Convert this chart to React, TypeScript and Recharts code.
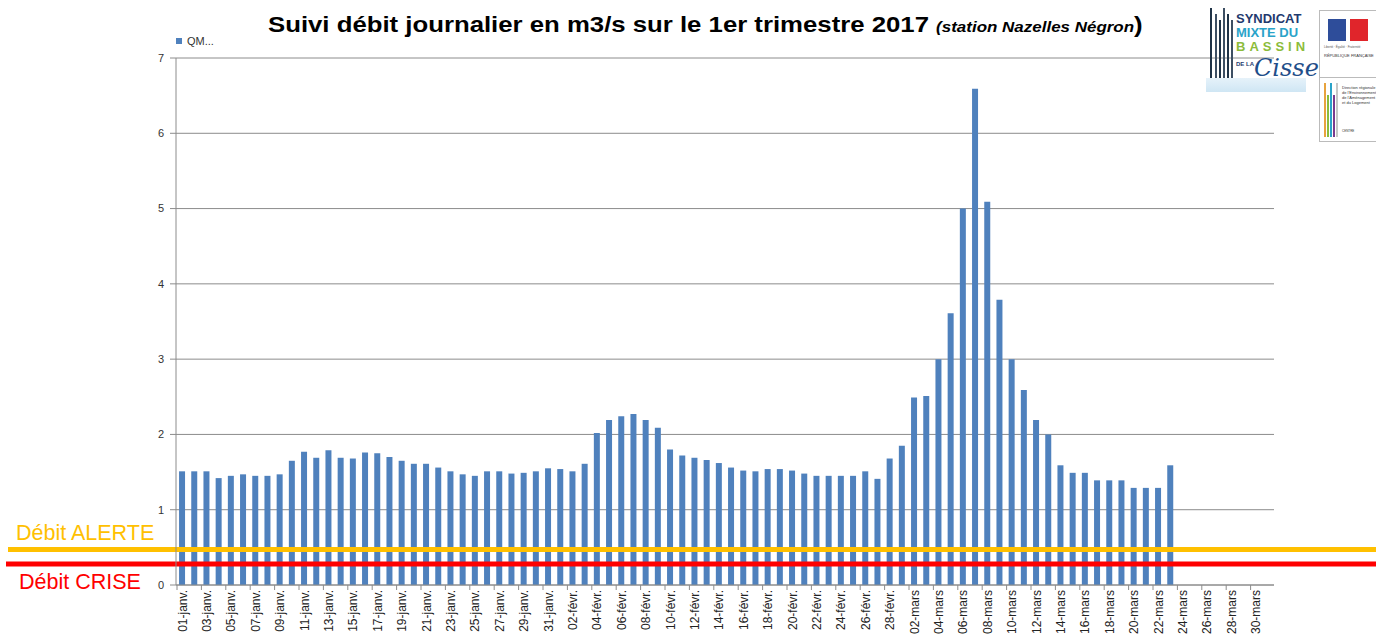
import React from "react";
import { BarChart, Bar, XAxis, YAxis, CartesianGrid, ReferenceLine } from "recharts";

// mois du 1er trimestre 2017
const months = ["janv.", "févr.", "mars"];
const monthDays = [31, 28, 31];

// débit moyen journalier QM (m3/s), station Nazelles Négron
const janFlow = [
  1.51, 1.51, 1.51, 1.42, 1.45, 1.47, 1.45, 1.45, 1.47, 1.65, 1.77, 1.69, 1.79, 1.69, 1.68, 1.76,
  1.75, 1.7, 1.65, 1.61, 1.61, 1.56, 1.51, 1.47, 1.45, 1.51, 1.51, 1.48, 1.49, 1.51, 1.55,
];
const febFlow = [
  1.54, 1.51, 1.61, 2.02, 2.19, 2.24, 2.27, 2.19, 2.09, 1.8, 1.72, 1.69, 1.66, 1.62, 1.56, 1.52,
  1.51, 1.54, 1.54, 1.52, 1.48, 1.45, 1.45, 1.45, 1.45, 1.51, 1.41, 1.68,
];
const marFlow = [
  1.85, 2.49, 2.51, 3.0, 3.61, 5.0, 6.59, 5.09, 3.79, 3.0, 2.59, 2.19, 2.0, 1.59, 1.49, 1.49,
  1.39, 1.39, 1.39, 1.29, 1.29, 1.29, 1.59,
];

const yTicks = [0, 1, 2, 3, 4, 5, 6, 7];
const alerteLevel = 0.47;
const criseLevel = 0.28;

const flows = [janFlow, febFlow, marFlow];
const data = months.flatMap((m, mi) =>
  Array.from({ length: monthDays[mi] }, (_, d) => ({
    day: `${String(d + 1).padStart(2, "0")}-${m}`,
    qm: flows[mi][d] ?? null,
  }))
);

const FONT = "'Liberation Sans', Arial, sans-serif";
const BLUE = "#4F81BD";
const GRID = "#8c8c8c";
const PLOT_LEFT = 176;
const PLOT_RIGHT = 1274;
const BAND = (PLOT_RIGHT - PLOT_LEFT) / data.length;

function DayTick({ x, y, payload }: any) {
  const bx = x - BAND / 2 + 1;
  return (
    <g>
      <line x1={bx} x2={bx} y1={y - 6} y2={y - 1} stroke={GRID} />
      <text
        x={0}
        y={0}
        transform={`translate(${x + 4.5},${y - 1}) rotate(-90)`}
        textAnchor="end"
        fontSize={12}
        fill="#222"
        fontFamily={FONT}
      >
        {payload.value}
      </text>
    </g>
  );
}

function threshold(color: string, label: string, dy: number, startX: number, textX: number) {
  return (props: any) => (
    <g>
      <line x1={startX} x2={1376} y1={props.y1} y2={props.y1} stroke={color} strokeWidth={5} />
      <text x={textX} y={props.y1 + dy} fill={color} fontSize={21.5} fontFamily={FONT}>
        {label}
      </text>
    </g>
  );
}

function SyndicatLogo() {
  return (
    <div style={{ position: "absolute", left: 1206, top: 4, width: 100, height: 88 }}>
      {[4, 9, 13, 17, 21, 25].map((l, i) => (
        <div
          key={i}
          style={{
            position: "absolute",
            left: l,
            top: 4 + (i % 3) * 6,
            width: 2,
            height: 76 - (i % 3) * 6,
            background: i % 2 ? "#3d4f63" : "#1f3347",
          }}
        />
      ))}
      <div style={{ position: "absolute", left: 0, top: 74, width: 100, height: 14, background: "linear-gradient(#e6f2fa, #cfe6f4)" }} />
      <div style={{ position: "absolute", left: 30, top: 8, fontFamily: FONT, fontWeight: 700, lineHeight: "14px", fontSize: 13 }}>
        <div style={{ color: "#1f3a6e" }}>SYNDICAT</div>
        <div style={{ color: "#2aa3c9" }}>MIXTE DU</div>
        <div style={{ color: "#8cbc3a", letterSpacing: 4 }}>BASSIN</div>
      </div>
      <div style={{ position: "absolute", left: 30, top: 57, fontSize: 6, fontFamily: FONT, fontWeight: 700, color: "#1f3a6e" }}>DE LA</div>
      <div style={{ position: "absolute", left: 48, top: 50, fontSize: 24, fontStyle: "italic", fontFamily: "'DejaVu Serif', serif", color: "#1f4e8a" }}>
        Cisse
      </div>
    </div>
  );
}

function RepubliqueLogo() {
  const bars = ["#e8a33d", "#8cbc3a", "#2aa3c9", "#7a3b8f", "#c7c7c7"];
  return (
    <div style={{ position: "absolute", left: 1319, top: 10, width: 60, height: 130, border: "1px solid #bbb", background: "#fff" }}>
      <div style={{ position: "absolute", left: 8, top: 8, width: 18, height: 22, background: "#2e4d9a" }} />
      <div style={{ position: "absolute", left: 30, top: 8, width: 18, height: 22, background: "#e0252b" }} />
      <div style={{ position: "absolute", left: 4, top: 34, fontSize: 3, color: "#555", fontFamily: FONT }}>Liberté · Égalité · Fraternité</div>
      <div style={{ position: "absolute", left: 4, top: 42, fontSize: 4, color: "#333", fontFamily: FONT }}>RÉPUBLIQUE FRANÇAISE</div>
      <div style={{ position: "absolute", left: 0, top: 66, width: 60, height: 1, background: "#bbb" }} />
      {bars.map((c, i) => (
        <div key={c} style={{ position: "absolute", left: 4 + i * 3, top: 72 + (i % 2) * 12, width: 2, height: 54 - (i % 2) * 12, background: c }} />
      ))}
      <div style={{ position: "absolute", left: 22, top: 74, fontSize: 4, lineHeight: "5px", color: "#333", fontFamily: FONT }}>
        Direction régionale
        <br />
        de l'Environnement
        <br />
        de l'Aménagement
        <br />
        et du Logement
      </div>
      <div style={{ position: "absolute", left: 22, top: 118, fontSize: 3, color: "#333", fontFamily: FONT }}>CENTRE</div>
    </div>
  );
}

export default function App() {
  return (
    <div style={{ position: "relative", width: 1376, height: 640, background: "#fff", overflow: "hidden", fontFamily: FONT }}>
      <style>{`body{margin:0}`}</style>
      <BarChart
        width={1376}
        height={640}
        data={data}
        margin={{ top: 58, right: 102, bottom: 0, left: 0 }}
        barCategoryGap="25%"
      >
        <CartesianGrid vertical={false} stroke={GRID} />
        <YAxis
          width={176}
          domain={[0, 7]}
          ticks={yTicks}
          tickSize={6}
          tickMargin={6}
          stroke={GRID}
          tick={{ fontSize: 11, fill: "#333", fontFamily: FONT }}
        />
        <XAxis
          dataKey="day"
          height={55}
          interval={1}
          stroke={GRID}
          tickLine={false}
          tickSize={6}
          tickMargin={0}
          tick={<DayTick />}
        />
        <Bar dataKey="qm" fill={BLUE} isAnimationActive={false} />
        <ReferenceLine y={alerteLevel} shape={threshold("#FFC000", "Débit ALERTE", -10, 8, 16)} />
        <ReferenceLine y={criseLevel} shape={threshold("#FF0000", "Débit CRISE", 25, 6, 19)} />
      </BarChart>

      <div style={{ position: "absolute", left: 176, top: 35, display: "flex", alignItems: "center", fontSize: 11, color: "#333" }}>
        <span style={{ width: 6, height: 6, background: BLUE, marginRight: 5 }} />
        QM...
      </div>

      <div
        style={{
          position: "absolute",
          left: 268,
          top: 12,
          whiteSpace: "nowrap",
          fontWeight: 700,
          fontSize: 22,
          color: "#000",
          transform: "scaleX(1.17)",
          transformOrigin: "left center",
        }}
      >
        Suivi débit journalier en m3/s sur le 1er trimestre 2017{" "}
        <span style={{ fontSize: 14.5, fontStyle: "italic" }}>(station Nazelles Négron</span>)
      </div>

      <SyndicatLogo />
      <RepubliqueLogo />
    </div>
  );
}
